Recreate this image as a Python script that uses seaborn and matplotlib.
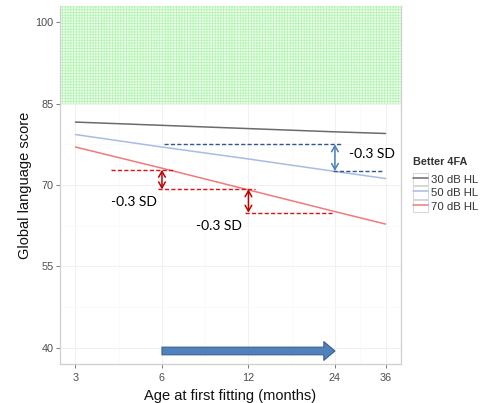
import numpy as np
import pandas as pd
import matplotlib
matplotlib.use("Agg")
import matplotlib.pyplot as plt
from matplotlib.ticker import FixedLocator, NullFormatter
from matplotlib.legend_handler import HandlerLine2D
from matplotlib.patches import Rectangle
import seaborn as sns

# Predicted global language score by age at first fitting, per hearing-loss group
ages = [3, 6, 12, 24, 36]
score_30 = [81.6, 81.0, 80.4, 79.8, 79.5]
score_50 = [79.3, 77.0, 74.8, 72.5, 71.2]
score_70 = [77.0, 73.1, 69.1, 65.1, 62.8]
groups = ["30 dB HL", "50 dB HL", "70 dB HL"]
group_colors = ["#6b6b6b", "#a7bce4", "#ee7b7b"]

x_ticks = [3, 6, 12, 24, 36]
y_ticks = [40, 55, 70, 85, 100]
typical_floor = 85  # shaded band: typical-range scores

# -0.3 SD drops between fitting ages: (age, upper, lower)
sd_label = "-0.3 SD"
red_drops = [(6, 72.8, 69.2), (12, 69.2, 64.9)]
red_guides = [(4.0, 6.6, 72.8), (5.8, 12.6, 69.2), (11.7, 23.5, 64.9)]
blue_drops = [(24, 77.5, 72.6)]
blue_guides = [(6.1, 25.4, 77.5), (23.6, 35.0, 72.6)]
sd_text_pos = [(4.8, 66.9), (9.5, 62.4), (32.2, 75.7)]
fitting_span = (6, 24, 39.4)

df = pd.DataFrame({
    "age": ages * 3,
    "score": score_30 + score_50 + score_70,
    "Better 4FA": [g for g in groups for _ in ages],
})

sns.set_theme(style="white")
plt.rcParams["font.family"] = ["Liberation Sans", "DejaVu Sans"]
plt.rcParams["hatch.linewidth"] = 0.6

fig = plt.figure(figsize=(4.8, 4.03), dpi=100)
ax = fig.add_axes([60 / 480, 1 - 364 / 403, (401 - 60) / 480, (364 - 6) / 403])
ax.set_xscale("log")

# typical range band
ax.axhspan(typical_floor, 110, facecolor="#f2fff2", edgecolor="#b4f5b4",
           hatch="++++++", linewidth=0, zorder=0.6)

sns.lineplot(data=df, x="age", y="score", hue="Better 4FA",
             palette=dict(zip(groups, group_colors)), linewidth=1.1,
             ax=ax, zorder=2)

pad = 2 ** 0.179
ax.set_xlim(x_ticks[0] / pad, x_ticks[-1] * pad)
ax.set_ylim(37, 103)

ax.xaxis.set_major_locator(FixedLocator(x_ticks))
ax.set_xticklabels([str(t) for t in x_ticks])
ax.xaxis.set_minor_locator(FixedLocator(
    [np.sqrt(a * b) for a, b in zip(x_ticks[:-1], x_ticks[1:])]))
ax.xaxis.set_minor_formatter(NullFormatter())
ax.yaxis.set_major_locator(FixedLocator(y_ticks))
ax.yaxis.set_minor_locator(FixedLocator(
    [(a + b) / 2 for a, b in zip(y_ticks[:-1], y_ticks[1:])]))

ax.grid(which="major", color="#efefef", linewidth=0.6)
ax.grid(which="minor", color="#f7f7f7", linewidth=0.4)
ax.set_axisbelow(True)

ax.tick_params(which="major", length=3, width=0.7, color="#7a7a7a",
               labelsize=7.8, labelcolor="#4d4d4d", pad=1.5,
               bottom=True, left=True)
ax.tick_params(axis="x", which="major", pad=3.5)
ax.tick_params(which="minor", length=0)
for side in ("left", "bottom", "right"):
    ax.spines[side].set_color("#cfcfcf")
    ax.spines[side].set_linewidth(0.9)
ax.spines["top"].set_visible(False)

ax.set_xlabel("Age at first fitting (months)", fontsize=10.5, color="#111111", labelpad=4)
ax.set_ylabel("Global language score", fontsize=10.5, color="#111111", labelpad=2.5)

# dashed guide lines and -0.3 SD arrows
dash = (0, (3, 1.6))
for x0, x1, y in red_guides:
    ax.hlines(y, x0, x1, colors="#e01010", linestyles=dash, linewidth=1.0, zorder=3)
for x0, x1, y in blue_guides:
    ax.hlines(y, x0, x1, colors="#2f5597", linestyles=dash, linewidth=1.0, zorder=3)
for x, hi, lo in red_drops:
    ax.annotate("", xy=(x, lo), xytext=(x, hi),
                arrowprops=dict(arrowstyle="<->,head_length=0.35,head_width=0.2",
                                color="#c00000", lw=1.1, shrinkA=0, shrinkB=0),
                zorder=4)
for x, hi, lo in blue_drops:
    ax.annotate("", xy=(x, lo), xytext=(x, hi),
                arrowprops=dict(arrowstyle="<->,head_length=0.35,head_width=0.2",
                                color="#4a7ebb", lw=1.1, shrinkA=0, shrinkB=0),
                zorder=4)
for tx, ty in sd_text_pos:
    ax.text(tx, ty, sd_label, fontsize=10, family=["Lato", "DejaVu Sans"],
            color="#000000", ha="center", va="center", zorder=5)

# fitting window arrow
x0, x1, y = fitting_span
ax.annotate("", xy=(x1, y), xytext=(x0, y),
            arrowprops=dict(arrowstyle="simple,head_length=8,head_width=13.5,tail_width=5.5",
                            mutation_scale=1, fc="#4f81bd", ec="#3a5f8f", lw=0.8,
                            shrinkA=0, shrinkB=0),
            zorder=5)


class BoxedLineHandler(HandlerLine2D):
    def create_artists(self, legend, orig_handle, xdescent, ydescent,
                       width, height, fontsize, trans):
        arts = super().create_artists(legend, orig_handle, xdescent, ydescent,
                                      width, height, fontsize, trans)
        box = Rectangle((-xdescent, -ydescent), width, height, facecolor="white",
                        edgecolor="#d6d6d6", linewidth=0.7, transform=trans)
        return [box] + list(arts)


handles, labels = ax.get_legend_handles_labels()
leg = ax.legend(handles, labels, title="Better 4FA", loc="upper left",
                bbox_to_anchor=(413 / 480, 1 - 157 / 403),
                bbox_transform=fig.transFigure, frameon=False, fontsize=8.2,
                title_fontproperties={"weight": "bold", "size": 7.8},
                handlelength=1.35, handleheight=1.3, handletextpad=0.2,
                labelspacing=0.1, borderpad=0, borderaxespad=0,
                handler_map={matplotlib.lines.Line2D: BoxedLineHandler()})
leg._legend_box.align = "left"
leg._legend_box.sep = 4
for t in leg.get_texts():
    t.set_color("#333333")
leg.get_title().set_color("#333333")

fig.savefig("out.png", dpi=100)
